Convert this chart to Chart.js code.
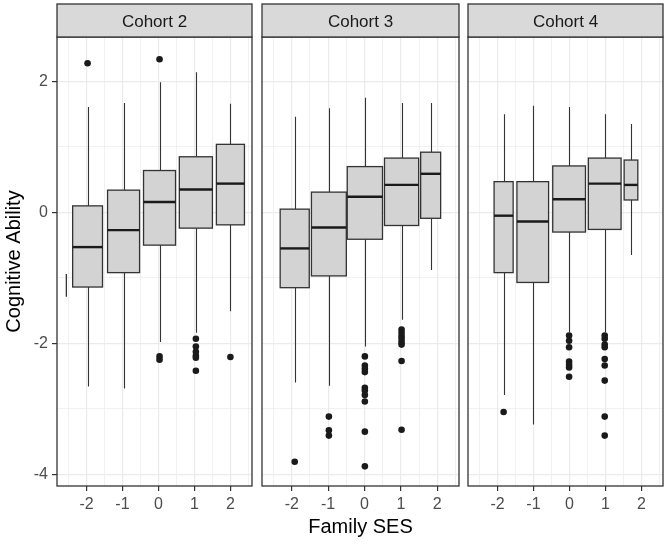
<!DOCTYPE html>
<html>
<head>
<meta charset="utf-8">
<script src="https://cdn.jsdelivr.net/npm/chart.js@4.4.0/dist/chart.umd.min.js"></script>
<style>
  body { margin: 0; background: #fff; }
  #wrap { position: relative; width: 667px; height: 545px; }
  .panel { position: absolute; top: 0; height: 545px; }
</style>
</head>
<body>
<div id="wrap">
  <div class="panel" style="left:0;width:256px"><canvas id="p0"></canvas></div>
  <div class="panel" style="left:256px;width:207px"><canvas id="p1"></canvas></div>
  <div class="panel" style="left:463px;width:204px"><canvas id="p2"></canvas></div>
</div>
<script>
const cohorts = ['Cohort 2', 'Cohort 3', 'Cohort 4'];
const sesTicks = [-2, -1, 0, 1, 2];
const abilityTicks = [-4, -2, 0, 2];

// one entry per box: where it sits on Family SES and its five numbers
const boxX = [
  [-2.56, -1.97, -0.97, 0.03, 1.04, 2.0],
  [-1.92, -0.98, 0.01, 1.02, 1.82],
  [-1.83, -1.02, -0.01, 0.98, 1.71]
];
const boxWidth = [
  [0, 0.83, 0.89, 0.89, 0.92, 0.78],
  [0.8, 0.96, 0.97, 0.94, 0.55],
  [0.53, 0.88, 0.91, 0.91, 0.38]
];
const whiskerLow = [
  [-1.29, -2.66, -2.69, -1.98, -1.84, -1.51],
  [-2.60, -2.65, -2.05, -1.64, -0.88],
  [-2.79, -3.24, -1.83, -1.83, -0.65]
];
const q1 = [
  [-1.29, -1.14, -0.92, -0.50, -0.24, -0.19],
  [-1.15, -0.97, -0.41, -0.20, -0.09],
  [-0.92, -1.07, -0.30, -0.26, 0.19]
];
const median = [
  [-1.12, -0.53, -0.27, 0.16, 0.35, 0.44],
  [-0.55, -0.23, 0.24, 0.42, 0.59],
  [-0.05, -0.14, 0.20, 0.44, 0.42]
];
const q3 = [
  [-0.94, 0.10, 0.34, 0.64, 0.85, 1.04],
  [0.05, 0.31, 0.70, 0.83, 0.92],
  [0.47, 0.47, 0.71, 0.83, 0.80]
];
const whiskerHigh = [
  [-0.94, 1.61, 1.67, 1.99, 2.14, 1.66],
  [1.46, 1.59, 1.75, 1.67, 1.67],
  [1.50, 1.63, 1.61, 1.50, 1.35]
];
const outliers = [
  [[], [2.28], [], [2.34, -2.2, -2.25], [-1.93, -2.05, -2.13, -2.19, -2.22, -2.42], [-2.21]],
  [[-3.81], [-3.12, -3.33, -3.41], [-2.2, -2.34, -2.39, -2.44, -2.68, -2.72, -2.79, -2.89, -3.35, -3.88],
   [-1.79, -1.84, -1.89, -1.93, -1.98, -2.02, -2.27, -3.32], []],
  [[-3.05], [], [-1.88, -1.96, -2.06, -2.28, -2.33, -2.37, -2.51],
   [-1.88, -1.93, -2.02, -2.06, -2.24, -2.34, -2.57, -3.12, -3.41], []]
];

// minor grid lines sit halfway between the labelled ones
const xGrid = [-2.5, -2, -1.5, -1, -0.5, 0, 0.5, 1, 1.5, 2, 2.5];
const yGrid = [-4, -3, -2, -1, 0, 1, 2];

const boxPlugin = {
  id: 'boxes',
  beforeDatasetsDraw(chart) {
    const { ctx, chartArea: a, scales: { x, y } } = chart;
    const c = chart.options.plugins.boxes.cohort;
    ctx.save();
    ctx.beginPath();
    ctx.rect(a.left, a.top, a.width, a.height);
    ctx.clip();
    boxX[c].forEach((xv, i) => {
      const xc = Math.round(x.getPixelForValue(xv)) + 0.5;
      const x0 = x.getPixelForValue(xv - boxWidth[c][i] / 2);
      const x1 = x.getPixelForValue(xv + boxWidth[c][i] / 2);
      const yLo = y.getPixelForValue(whiskerLow[c][i]);
      const yQ1 = y.getPixelForValue(q1[c][i]);
      const yMed = y.getPixelForValue(median[c][i]);
      const yQ3 = y.getPixelForValue(q3[c][i]);
      const yHi = y.getPixelForValue(whiskerHigh[c][i]);
      ctx.strokeStyle = '#333';
      ctx.lineWidth = 1.1;
      ctx.beginPath();
      ctx.moveTo(xc, yHi); ctx.lineTo(xc, yQ3);
      ctx.moveTo(xc, yQ1); ctx.lineTo(xc, yLo);
      ctx.stroke();
      ctx.fillStyle = '#d3d3d3';
      ctx.fillRect(x0, yQ3, x1 - x0, yQ1 - yQ3);
      ctx.lineWidth = 1.3;
      ctx.strokeRect(x0, yQ3, x1 - x0, yQ1 - yQ3);
      ctx.strokeStyle = '#1a1a1a';
      ctx.lineWidth = 2.4;
      ctx.beginPath();
      ctx.moveTo(x0, yMed); ctx.lineTo(x1, yMed);
      ctx.stroke();
    });
    ctx.restore();
  },
  afterDraw(chart) {
    const { ctx, chartArea: a } = chart;
    const c = chart.options.plugins.boxes.cohort;
    ctx.save();
    ctx.strokeStyle = '#333';
    ctx.lineWidth = 1.3;
    ctx.strokeRect(a.left, a.top, a.width, a.height);
    // facet strip
    ctx.fillStyle = '#d9d9d9';
    ctx.fillRect(a.left, 4, a.width, a.top - 4);
    ctx.strokeRect(a.left, 4, a.width, a.top - 4);
    ctx.fillStyle = '#1a1a1a';
    ctx.font = '17px "Liberation Sans", Arial, sans-serif';
    ctx.textAlign = 'center';
    ctx.textBaseline = 'middle';
    ctx.fillText(cohorts[c], (a.left + a.right) / 2, (4 + a.top) / 2 + 2);
    ctx.restore();
  }
};

const fontFamily = '"Liberation Sans", Arial, sans-serif';
const isMajorX = v => sesTicks.includes(v);
const isMajorY = v => Number.isInteger(v) && v % 2 === 0;

const paddings = [
  { left: 0, right: 4, top: 37, bottom: 0 },
  { left: 6, right: 4, top: 37, bottom: 0 },
  { left: 5, right: 4, top: 37, bottom: 0 }
];

cohorts.forEach((name, c) => {
  const points = [];
  boxX[c].forEach((xv, i) => {
    outliers[c][i].forEach(v => points.push({ x: xv, y: v }));
  });
  const first = c === 0;
  new Chart(document.getElementById('p' + c), {
    type: 'scatter',
    data: {
      datasets: [{
        data: points,
        pointRadius: 3.3,
        pointBackgroundColor: '#1a1a1a',
        pointBorderWidth: 0
      }]
    },
    plugins: [boxPlugin],
    options: {
      responsive: true,
      maintainAspectRatio: false,
      animation: false,
      layout: { padding: paddings[c] },
      plugins: {
        legend: { display: false },
        tooltip: { enabled: false },
        boxes: { cohort: c }
      },
      scales: {
        x: {
          type: 'linear',
          min: -2.82,
          max: 2.6,
          afterBuildTicks: s => { s.ticks = xGrid.map(v => ({ value: v })); },
          afterFit: s => { s.height = 59; },
          border: { display: false },
          grid: {
            color: '#ebebeb',
            lineWidth: ctx => isMajorX(ctx.tick.value) ? 1.2 : 0.7,
            tickColor: ctx => isMajorX(ctx.tick.value) ? '#333' : 'rgba(0,0,0,0)',
            tickLength: 5
          },
          ticks: {
            autoSkip: false,
            maxRotation: 0,
            padding: 4,
            color: '#4d4d4d',
            font: { family: fontFamily, size: 16 },
            callback: v => isMajorX(v) ? String(v) : ''
          },
          title: {
            display: c === 1,
            text: 'Family SES',
            color: '#000',
            font: { family: fontFamily, size: 20 },
            padding: { top: 0, bottom: 6 }
          }
        },
        y: {
          type: 'linear',
          min: -4.18,
          max: 2.68,
          afterBuildTicks: s => { s.ticks = yGrid.map(v => ({ value: v })); },
          afterFit: s => { s.width = first ? 57 : 0; },
          border: { display: false },
          grid: {
            color: '#ebebeb',
            lineWidth: ctx => isMajorY(ctx.tick.value) ? 1.2 : 0.7,
            tickColor: ctx => isMajorY(ctx.tick.value) ? '#333' : 'rgba(0,0,0,0)',
            drawTicks: first,
            tickLength: 5
          },
          ticks: {
            display: first,
            padding: 4,
            color: '#4d4d4d',
            font: { family: fontFamily, size: 16 },
            callback: v => abilityTicks.includes(v) ? String(v) : ''
          },
          title: {
            display: first,
            text: 'Cognitive Ability',
            color: '#000',
            font: { family: fontFamily, size: 20 },
            padding: { top: 2, bottom: 0 }
          }
        }
      }
    }
  });
});
</script>
</body>
</html>
